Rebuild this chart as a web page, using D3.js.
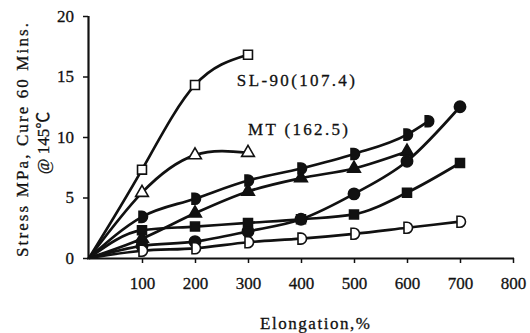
<!DOCTYPE html>
<html>
<head>
<meta charset="utf-8">
<script src="https://cdn.jsdelivr.net/npm/d3@7"></script>
<style>
	body	{ margin:0; background:#fff; }
	svg	{ display:block; }
	.tick text	{ font-family:"Liberation Serif","DejaVu Serif",serif; font-size:17px; fill:#111; stroke:#111; stroke-width:0.3; }
	.lbl	{ font-family:"Liberation Serif","DejaVu Serif",serif; fill:#111; stroke:#111; stroke-width:0.3; }
</style>
</head>
<body>
<div id="chart"></div>
<script>
// elongation (%) positions
var	elong		= [0, 100, 200, 300, 400, 500, 600, 700],
	elongShort	= [0, 100, 200, 300],
	elongHalfD	= [0, 100, 200, 300, 400, 500, 600, 640],
	elongTri	= [0, 100, 200, 300, 400, 500, 600];
// stress (MPa) per series
var	slStress	= [0, 7.3, 14.3, 16.8],			// open square, SL-90
	mtStress	= [0, 5.4, 8.5, 8.7],			// open triangle, MT
	dFillStress	= [0, 3.4, 4.9, 6.4, 7.4, 8.6, 10.2, 11.3],
	triFillStress	= [0, 1.6, 3.7, 5.5, 6.6, 7.4, 8.8],
	circFillStress	= [0, 1.0, 1.35, 2.2, 3.2, 5.3, 8.0, 12.5],
	sqFillStress	= [0, 2.3, 2.6, 2.9, 3.2, 3.6, 5.4, 7.85],
	dOpenStress	= [0, 0.6, 0.8, 1.3, 1.6, 2.0, 2.5, 3.0];
var	xTicks	= [100, 200, 300, 400, 500, 600, 700, 800],
	yTicks	= [0, 5, 10, 15, 20];
var	notes	= [{text:"SL-90(107.4)", x:279, y:14.2, len:118}, {text:"MT (162.5)", x:300, y:10.2, len:100}];

var	W = 530, H = 333,
	x = d3.scaleLinear().domain([0, 800]).range([89, 513]),
	y = d3.scaleLinear().domain([0, 20]).range([258, 16]),
	lineNat = d3.line().curve(d3.curveNatural)
		.x(function(d) { return x(d[0]); })
		.y(function(d) { return y(d[1]); }),
	lineMono = d3.line().curve(d3.curveMonotoneX)
		.x(function(d) { return x(d[0]); })
		.y(function(d) { return y(d[1]); });

var	series = [
	{xs:elongShort, ys:slStress, mark:"square", fill:false, line:lineNat},
	{xs:elongShort, ys:mtStress, mark:"triangle", fill:false, line:lineNat},
	{xs:elongHalfD, ys:dFillStress, mark:"halfd", fill:true, line:lineMono},
	{xs:elongTri, ys:triFillStress, mark:"triangle", fill:true, line:lineMono},
	{xs:elong, ys:circFillStress, mark:"circle", fill:true, line:lineMono},
	{xs:elong, ys:sqFillStress, mark:"square", fill:true, line:lineMono},
	{xs:elong, ys:dOpenStress, mark:"halfd", fill:false, line:lineMono}
];

function markPath(m) {
	if (m == "square") return d3.symbol(d3.symbolSquare, 80)();
	if (m == "triangle") return d3.symbol(d3.symbolTriangle, 70)();
	if (m == "circle") return d3.symbol(d3.symbolCircle, 100)();
	// D shape: flat left, round right
	return "M-3,-5.5L0,-5.5A5.5,5.5 0 0 1 0,5.5L-3,5.5Z";
}

var svg = d3.select("#chart").append("svg").attr("width", W).attr("height", H);

// axes
var gx = svg.append("g").attr("transform", "translate(0,258)")
	.call(d3.axisBottom(x).tickValues(xTicks).tickSize(5).tickPadding(14));
gx.select(".domain").remove();
gx.selectAll(".tick line").attr("stroke", "#111").attr("stroke-width", 1.5);
svg.append("line").attr("x1", 87).attr("x2", x(800)+1).attr("y1", 258.5).attr("y2", 258.5)
	.attr("stroke", "#111").attr("stroke-width", 2.2);

var gy = svg.append("g").attr("transform", "translate(88,0)")
	.call(d3.axisLeft(y).tickValues(yTicks).tickSize(5).tickPadding(9));
gy.select(".domain").remove();
gy.selectAll(".tick line").attr("stroke", "#111").attr("stroke-width", 1.5);
svg.append("line").attr("x1", 88.5).attr("x2", 88.5).attr("y1", y(20)).attr("y2", 259)
	.attr("stroke", "#111").attr("stroke-width", 2.2);

// curves
series.forEach(function(s) {
	var pts = s.xs.map(function(v, i) { return [v, s.ys[i]]; });
	svg.append("path").attr("d", s.line(pts))
		.attr("fill", "none").attr("stroke", "#111").attr("stroke-width", 2.7);
	svg.selectAll(null).data(pts.slice(1)).enter().append("path")
		.attr("transform", function(d) { return "translate(" + x(d[0]) + "," + y(d[1]) + ")"; })
		.attr("d", markPath(s.mark))
		.attr("fill", s.fill ? "#111" : "#fff")
		.attr("stroke", "#111").attr("stroke-width", 1.6);
});

// annotations
svg.selectAll(null).data(notes).enter().append("text").attr("class", "lbl")
	.attr("x", function(d) { return x(d.x); }).attr("y", function(d) { return y(d.y); })
	.attr("font-size", 17)
	.attr("textLength", function(d) { return d.len; }).attr("lengthAdjust", "spacing")
	.text(function(d) { return d.text; });

// axis titles
svg.append("text").attr("class", "lbl").attr("font-size", 17)
	.attr("x", 260).attr("y", 329)
	.attr("textLength", 110).attr("lengthAdjust", "spacing")
	.text("Elongation,%");
svg.append("text").attr("class", "lbl").attr("font-size", 17)
	.attr("transform", "translate(28,140) rotate(-90)").attr("text-anchor", "middle")
	.attr("textLength", 234).attr("lengthAdjust", "spacing")
	.text("Stress MPa, Cure 60 Mins.");
svg.append("text").attr("class", "lbl").attr("font-size", 17)
	.attr("transform", "translate(49,143) rotate(-90)").attr("text-anchor", "middle")
	.style("font-family", "'Liberation Serif','Noto Sans CJK SC',serif")
	.text("@ 145℃");
</script>
</body>
</html>
